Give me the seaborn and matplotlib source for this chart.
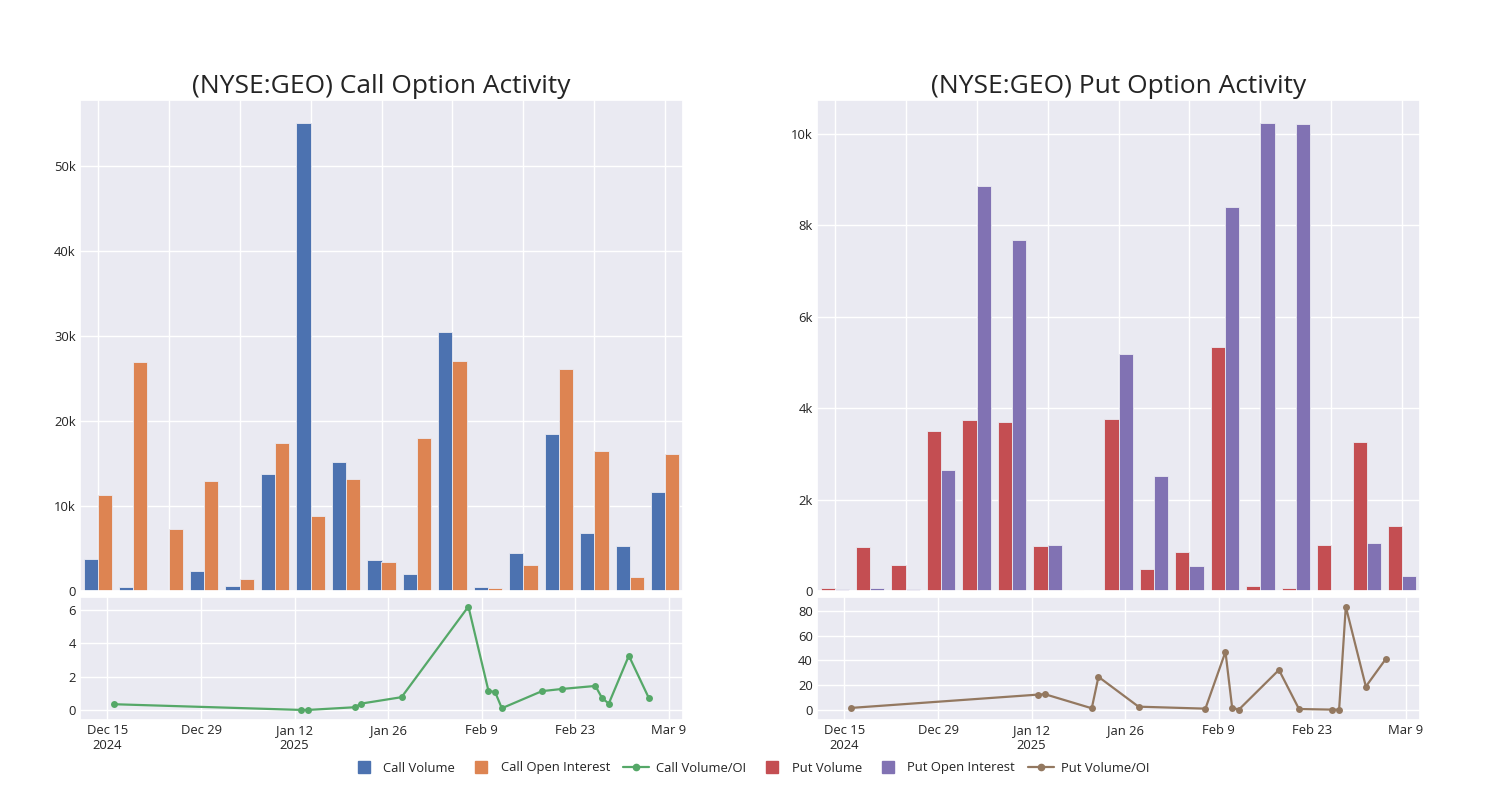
import pandas as pd
import numpy as np
import matplotlib.pyplot as plt
import matplotlib.dates as mdates
from matplotlib.lines import Line2D
from matplotlib.ticker import FuncFormatter
import seaborn as sns
plt.switch_backend('Agg')

# ---- data ----
dates = ['2024-12-16', '2025-01-13', '2025-01-14', '2025-01-21', '2025-01-22',
         '2025-01-28', '2025-02-07', '2025-02-10', '2025-02-11', '2025-02-12',
         '2025-02-18', '2025-02-21', '2025-02-26', '2025-02-27', '2025-02-28',
         '2025-03-03', '2025-03-06']

call_volume = [3810, 470, 120, 2320, 550, 13750, 54970, 15170, 3650, 2040,
               30450, 510, 4520, 18470, 6760, 5340, 11590]
call_oi = [11240, 26950, 7310, 12890, 1450, 17370, 8840, 13160, 3420, 17960,
           26990, 390, 3100, 26050, 16460, 1610, 16150]
call_ratio = [0.36, 0.02, 0.02, 0.18, 0.40, 0.78, 6.18, 1.16, 1.08, 0.12,
              1.14, 1.27, 1.45, 0.72, 0.40, 3.25, 0.72]

put_volume = [60, 970, 570, 3510, 3730, 3700, 990, 30, 3760, 490,
              860, 5340, 110, 70, 1000, 3260, 1430]
put_oi = [40, 70, 40, 2640, 8860, 7670, 1010, 0, 5180, 2510,
          550, 8400, 10230, 10210, 10, 1050, 330]
put_ratio = [1.4, 12.2, 12.5, 1.1, 26.6, 2.4, 0.8, 46.9, 1.6, 0.0,
             32.2, 0.5, 0.0, 0.0, 83.5, 18.7, 41.2]

tick_dates = ['2024-12-15', '2024-12-29', '2025-01-12', '2025-01-26',
              '2025-02-09', '2025-02-23', '2025-03-09']
tick_labels = ['Dec 15\n2024', 'Dec 29', 'Jan 12\n2025', 'Jan 26',
               'Feb 9', 'Feb 23', 'Mar 9']

BLUE, ORANGE, GREEN = '#4C72B0', '#DD8452', '#55A868'
RED, PURPLE, BROWN = '#C44E52', '#8172B3', '#937860'
BG = '#EAEAF2'
TXT = '#242424'
FS = 9.4

sns.set_theme(style='darkgrid', rc={'axes.facecolor': BG, 'grid.color': 'white',
                                    'grid.linewidth': 1.0})
plt.rcParams['font.family'] = ['Open Sans', 'DejaVu Sans']
plt.rcParams['text.color'] = TXT
plt.rcParams['xtick.color'] = TXT
plt.rcParams['ytick.color'] = TXT

dt = pd.to_datetime(dates)
pad = pd.Timedelta(days=5.1)


def k_fmt(v, pos):
    return '0' if v == 0 else f'{v / 1000:.0f}k'


def bar_panel(ax, vol, oi, names, colors, title):
    df = pd.DataFrame({'date': dates, names[0]: vol, names[1]: oi})
    df = df.melt(id_vars='date', var_name='series', value_name='value')
    sns.barplot(data=df, x='date', y='value', hue='series', palette=colors,
                saturation=1, width=0.8, edgecolor=BG, linewidth=0.6,
                legend=False, ax=ax)
    ax.set_xlim(-0.5, len(dates) - 0.5)
    ax.set_ylim(0, max(max(vol), max(oi)) * 1.05)
    ax.set_xticks(range(0, len(dates), 2))
    ax.set_xticklabels([])
    ax.grid(True, axis='both', color='white', linewidth=1.0)
    ax.set_axisbelow(True)
    ax.yaxis.set_major_formatter(FuncFormatter(k_fmt))
    ax.set_xlabel('')
    ax.set_ylabel('')
    ax.tick_params(length=0, labelsize=FS, pad=3)
    ax.set_title(title, fontsize=19, pad=5, color=TXT)


def line_panel(ax, ratio, color, ylim, yticks):
    sns.lineplot(x=dt, y=ratio, color=color, marker='o', markersize=5,
                 markeredgewidth=0, linewidth=1.6, ax=ax)
    ax.set_xlim(dt.min() - pad, dt.max() + pad)
    ax.set_ylim(*ylim)
    ax.set_yticks(yticks)
    ax.set_xticks(pd.to_datetime(tick_dates))
    ax.set_xticklabels(tick_labels)
    ax.tick_params(length=0, labelsize=FS, pad=3)
    ax.set_xlabel('')
    ax.set_ylabel('')


fig = plt.figure(figsize=(15, 8), dpi=100)
W, H = 1500, 800
for x0, vol, oi, names, cols, ratio, lc, title, ylim, yt in [
        (80, call_volume, call_oi, ['Call Volume', 'Call Open Interest'],
         [BLUE, ORANGE], call_ratio, GREEN, '(NYSE:GEO) Call Option Activity',
         (-0.58, 6.75), [0, 2, 4, 6]),
        (817, put_volume, put_oi, ['Put Volume', 'Put Open Interest'],
         [RED, PURPLE], put_ratio, BROWN, '(NYSE:GEO) Put Option Activity',
         (-8.4, 91.3), [0, 20, 40, 60, 80])]:
    ax_top = fig.add_axes([x0 / W, (H - 591) / H, 603 / W, 491 / H])
    ax_bot = fig.add_axes([x0 / W, (H - 720) / H, 603 / W, 123 / H])
    bar_panel(ax_top, vol, oi, names, cols, title)
    line_panel(ax_bot, ratio, lc, ylim, yt)

handles = [
    Line2D([], [], ls='none', marker='s', ms=8, color=BLUE),
    Line2D([], [], ls='none', marker='s', ms=8, color=ORANGE),
    Line2D([], [], color=GREEN, marker='o', ms=4.5, lw=1.6),
    Line2D([], [], ls='none', marker='s', ms=8, color=RED),
    Line2D([], [], ls='none', marker='s', ms=8, color=PURPLE),
    Line2D([], [], color=BROWN, marker='o', ms=4.5, lw=1.6),
]
labels = ['Call Volume', 'Call Open Interest', 'Call Volume/OI',
          'Put Volume', 'Put Open Interest', 'Put Volume/OI']
fig.legend(handles, labels, loc='center', bbox_to_anchor=(0.5, 1 - 768 / H),
           ncol=6, frameon=False, fontsize=FS, handlelength=2.0,
           handletextpad=0.5, columnspacing=1.0)

fig.savefig('out.png', dpi=100, facecolor='white')
